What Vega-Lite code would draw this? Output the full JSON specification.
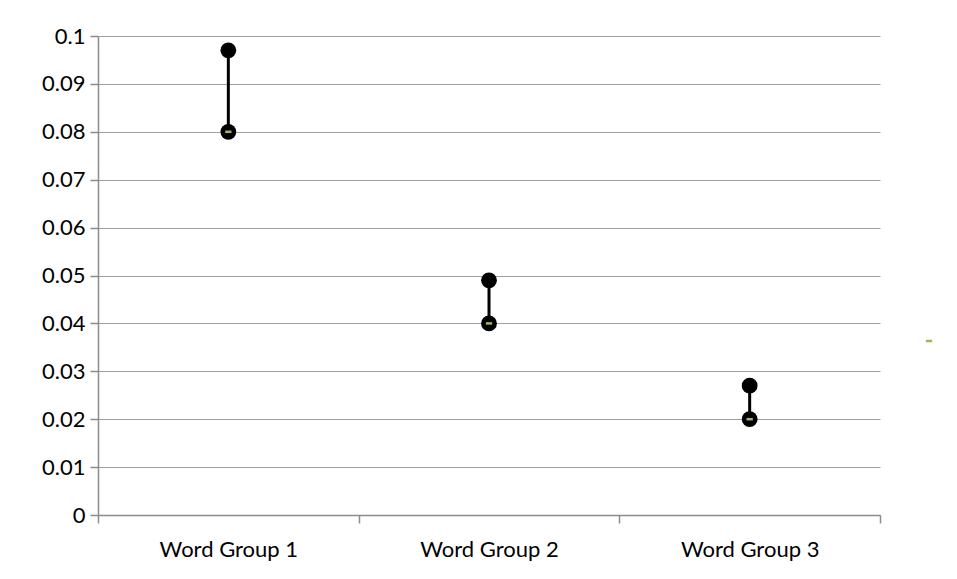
{
  "$schema": "https://vega.github.io/schema/vega-lite/v6.json",
  "autosize": "none",
  "width": 782,
  "height": 479,
  "padding": {"left": 98, "top": 36, "right": 77, "bottom": 64},
  "background": "white",
  "config": {
    "view": {"stroke": null},
    "font": "Lato",
    "axis": {"labelFont": "Lato", "labelFontSize": 22, "labelColor": "#000000", "domainColor": "#8c8c8c", "tickColor": "#8c8c8c", "gridColor": "#a0a0a0", "domainWidth": 1.5, "tickWidth": 1.5}
  },
  "data": {
    "values": [
      {"group": "Word Group 1", "high": 0.097, "low": 0.080, "series": "s"},
      {"group": "Word Group 2", "high": 0.049, "low": 0.040, "series": "s"},
      {"group": "Word Group 3", "high": 0.027, "low": 0.020, "series": "s"}
    ]
  },
  "encoding": {
    "x": {
      "field": "group", "type": "nominal", "title": null,
      "scale": {"paddingInner": 0, "paddingOuter": 0},
      "axis": {"labelAngle": 0, "tickBand": "extent", "tickSize": 8, "labelPadding": 16, "grid": false}
    }
  },
  "layer": [
    {
      "mark": {"type": "rule", "color": "#000000", "strokeWidth": 3},
      "encoding": {
        "y": {"field": "high", "type": "quantitative", "title": null,
          "scale": {"domain": [0, 0.1], "nice": false},
          "axis": {"values": [0, 0.01, 0.02, 0.03, 0.04, 0.05, 0.06, 0.07, 0.08, 0.09, 0.1], "format": ".2~f", "tickSize": 8, "labelPadding": 5, "grid": true, "gridWidth": 1.2}},
        "y2": {"field": "low"}
      }
    },
    {
      "mark": {"type": "point", "filled": true, "color": "#000000", "size": 250, "opacity": 1},
      "encoding": {"y": {"field": "high", "type": "quantitative"}}
    },
    {
      "mark": {"type": "point", "filled": true, "color": "#000000", "size": 250, "opacity": 1},
      "encoding": {"y": {"field": "low", "type": "quantitative"}}
    },
    {
      "mark": {"type": "point", "filled": true, "opacity": 1, "size": 40, "shape": "M-1,-0.4H1V0.4H-1Z"},
      "encoding": {
        "y": {"field": "low", "type": "quantitative"},
        "color": {"field": "series", "type": "nominal", "scale": {"range": ["#9bbb59"]},
          "legend": {"title": null, "orient": "none", "legendX": 826, "legendY": 300, "labelExpr": "''", "symbolType": "M-1,-0.4H1V0.4H-1Z", "symbolSize": 40, "symbolStrokeWidth": 0}}
      }
    }
  ]
}
